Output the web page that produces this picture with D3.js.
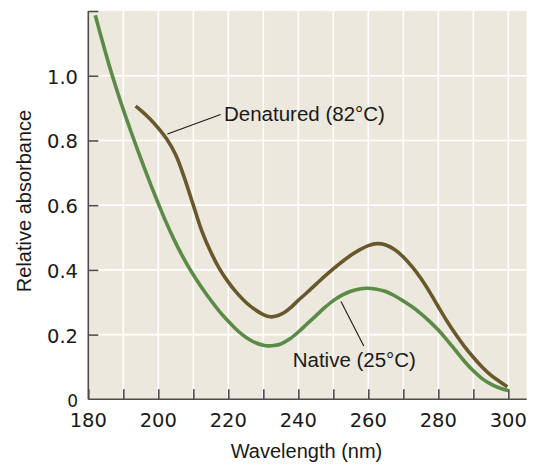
<!DOCTYPE html>
<html>
<head>
<meta charset="utf-8">
<script src="https://cdn.jsdelivr.net/npm/d3@7/dist/d3.min.js"></script>
<style>
  html, body { margin: 0; padding: 0; background: #ffffff; }
  svg { display: block; }
</style>
</head>
<body>
<svg id="chart" width="541" height="466"></svg>
<script>
// Absorbance spectra of DNA, native vs. heat-denatured
const nativeWavelength = [182, 184, 186, 188, 190, 192, 194, 196, 198, 200, 202, 204, 206, 208, 210, 212, 214, 216, 218, 220, 222, 224, 226, 228, 230, 231.5, 233, 235, 237.5, 240, 242.5, 245, 247.5, 250, 252.5, 255, 257.5, 259.5, 262, 265, 267.5, 270, 272.5, 275, 277.5, 280, 282.5, 285, 287.5, 290, 292.5, 295, 297.5, 300];
const nativeAbsorbance = [1.187, 1.107, 1.031, 0.961, 0.895, 0.833, 0.773, 0.715, 0.659, 0.605, 0.553, 0.505, 0.461, 0.421, 0.385, 0.352, 0.321, 0.292, 0.265, 0.241, 0.219, 0.200, 0.185, 0.174, 0.167, 0.165, 0.166, 0.171, 0.186, 0.208, 0.233, 0.258, 0.283, 0.305, 0.322, 0.334, 0.341, 0.343, 0.341, 0.333, 0.320, 0.304, 0.286, 0.265, 0.241, 0.214, 0.183, 0.150, 0.117, 0.088, 0.064, 0.047, 0.035, 0.027];

const denaturedWavelength = [193.5, 195, 197.5, 200, 202.5, 205, 207.5, 210, 212.5, 215, 217.5, 220, 222.5, 225, 227.5, 230, 232, 234, 236, 238, 240, 242.5, 245, 247.5, 250, 252.5, 255, 257.5, 260, 262.5, 265, 267.5, 270, 272.5, 275, 277.5, 280, 282.5, 285, 287.5, 290, 292.5, 295, 297.5, 299.7];
const denaturedAbsorbance = [0.906, 0.893, 0.868, 0.838, 0.803, 0.755, 0.683, 0.600, 0.518, 0.455, 0.403, 0.362, 0.328, 0.300, 0.278, 0.262, 0.255, 0.258, 0.268, 0.285, 0.306, 0.330, 0.355, 0.380, 0.403, 0.425, 0.445, 0.462, 0.475, 0.481, 0.477, 0.463, 0.440, 0.410, 0.374, 0.332, 0.286, 0.241, 0.200, 0.163, 0.130, 0.100, 0.075, 0.055, 0.039];

const xTicks = [180, 190, 200, 210, 220, 230, 240, 250, 260, 270, 280, 290, 300];
const xTickLabels = [180, 200, 220, 240, 260, 280, 300];
const yTicks = [0.2, 0.4, 0.6, 0.8, 1.0, 1.2];
const yTickLabels = [0, 0.2, 0.4, 0.6, 0.8, 1.0];

const seriesNames = ["Native (25°C)", "Denatured (82°C)"];

const svg = d3.select("#chart");
const plotLeft = 88.3, plotRight = 526.7, plotTop = 11, plotBottom = 399.3;

const x = d3.scaleLinear().domain([180, 305.25]).range([plotLeft, plotRight]);
const y = d3.scaleLinear().domain([0, 1.2]).range([plotBottom, plotTop]);

const axisColor = "#4d4d4d";
const labelFont = "'Liberation Sans', Arial, sans-serif";
const tickFont = "'DejaVu Sans', sans-serif";

// plot background
svg.append("rect")
  .attr("x", plotLeft).attr("y", plotTop)
  .attr("width", plotRight - plotLeft).attr("height", plotBottom - plotTop)
  .attr("fill", "#ece8dd");

// white grid
const grid = svg.append("g").attr("stroke", "#ffffff").attr("stroke-width", 1.6);
grid.selectAll("line.v").data(xTicks.slice(1)).join("line")
  .attr("class", "v")
  .attr("x1", d => x(d)).attr("x2", d => x(d))
  .attr("y1", plotTop).attr("y2", plotBottom);
grid.selectAll("line.h").data(yTicks.slice(0, -1)).join("line")
  .attr("class", "h")
  .attr("x1", plotLeft).attr("x2", plotRight)
  .attr("y1", d => y(d)).attr("y2", d => y(d));

// axes: ticks point inward
const xAxis = d3.axisBottom(x).tickValues(xTicks).tickSize(-10).tickSizeOuter(0).tickFormat("");
const yAxis = d3.axisLeft(y).tickValues(yTicks).tickSize(-10).tickSizeOuter(0).tickFormat("");

const gx = svg.append("g").attr("transform", `translate(0,${plotBottom})`).call(xAxis);
const gy = svg.append("g").attr("transform", `translate(${plotLeft},0)`).call(yAxis);
[gx, gy].forEach(g => {
  g.select(".domain").attr("stroke", axisColor).attr("stroke-width", 1.6);
  g.selectAll(".tick line").attr("stroke", axisColor).attr("stroke-width", 1.6);
});
gx.select(".domain").attr("d", `M${plotLeft},0H${plotRight}`);
gy.select(".domain").attr("d", `M0,${plotTop}V${plotBottom}`);

// tick labels
svg.append("g").selectAll("text").data(xTickLabels).join("text")
  .attr("x", d => x(d)).attr("y", 427)
  .attr("text-anchor", "middle")
  .attr("font-family", tickFont).attr("font-size", 19.5).attr("fill", "#1a1a1a")
  .text(d => d);
svg.append("g").selectAll("text").data(yTickLabels).join("text")
  .attr("x", 78).attr("y", d => y(d) + 8)
  .attr("text-anchor", "end")
  .attr("font-family", tickFont).attr("font-size", d => d === 0 ? 17 : 19.5).attr("fill", "#1a1a1a")
  .text(d => d === 0 ? "0" : d.toFixed(1));

// axis titles
svg.append("text")
  .attr("x", 306.5).attr("y", 458)
  .attr("text-anchor", "middle")
  .attr("font-family", labelFont).attr("font-size", 20).attr("fill", "#1a1a1a")
  .text("Wavelength (nm)");
svg.append("text")
  .attr("transform", "translate(31,201) rotate(-90)")
  .attr("text-anchor", "middle")
  .attr("font-family", labelFont).attr("font-size", 20).attr("fill", "#1a1a1a")
  .text("Relative absorbance");

// spectra
const line = d3.line()
  .x(d => x(d[0])).y(d => y(d[1]))
  .curve(d3.curveCatmullRom.alpha(0.5));

const nativePts = d3.zip(nativeWavelength, nativeAbsorbance);
const denaturedPts = d3.zip(denaturedWavelength, denaturedAbsorbance);

svg.append("path").datum(denaturedPts)
  .attr("d", line)
  .attr("fill", "none").attr("stroke", "#68582b").attr("stroke-width", 3.6);
svg.append("path").datum(nativePts)
  .attr("d", line)
  .attr("fill", "none").attr("stroke", "#5b8b46").attr("stroke-width", 3.6);

// callouts
const callouts = [
  { name: seriesNames[1], from: [202.6, 0.820], to: [217.8, 0.880], tx: 224, ty: 121 },
  { name: seriesNames[0], from: [252.2, 0.302], to: [258.7, 0.165], tx: 292.7, ty: 367 }
];
callouts.forEach(c => {
  svg.append("line")
    .attr("x1", x(c.from[0])).attr("y1", y(c.from[1]))
    .attr("x2", x(c.to[0])).attr("y2", y(c.to[1]))
    .attr("stroke", "#1a1a1a").attr("stroke-width", 1.1);
  svg.append("text")
    .attr("x", c.tx).attr("y", c.ty)
    .attr("font-family", labelFont).attr("font-size", 20.5).attr("fill", "#1a1a1a")
    .text(c.name);
});
</script>
</body>
</html>
